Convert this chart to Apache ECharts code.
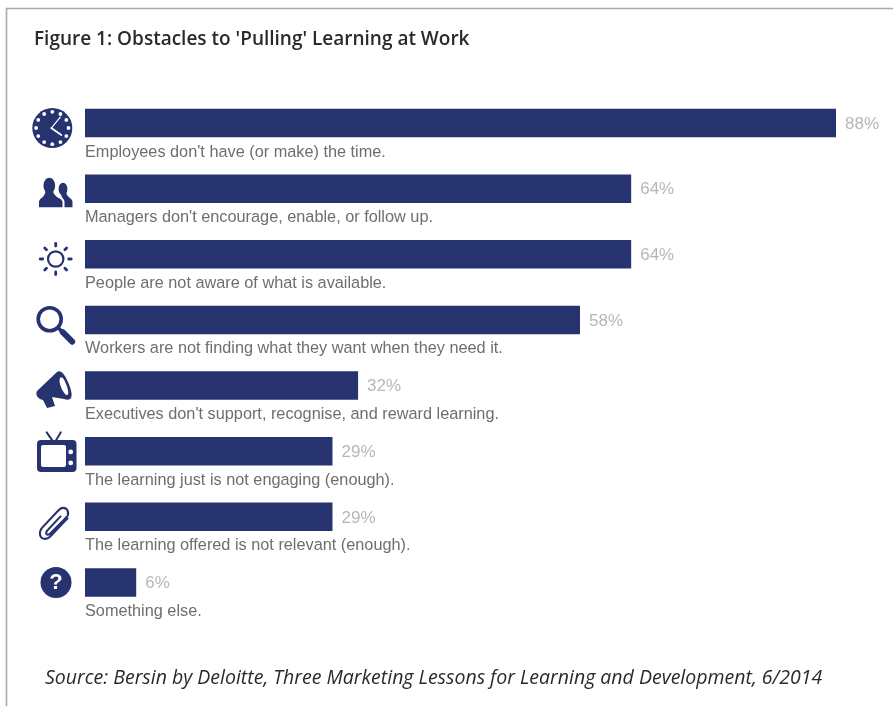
<!DOCTYPE html>
<html>
<head>
<meta charset="utf-8">
<title>Obstacles to 'Pulling' Learning at Work</title>
<script src="https://cdn.jsdelivr.net/npm/echarts@6/dist/echarts.min.js"></script>
<style>
  html, body { margin: 0; padding: 0; background: #fff; }
  #chart { width: 893px; height: 706px; }
</style>
</head>
<body>
<div id="chart"></div>
<script>
const titleText = "Figure 1: Obstacles to 'Pulling' Learning at Work";
const sourceText = "Source: Bersin by Deloitte, Three Marketing Lessons for Learning and Development, 6/2014";
const categories = [
  "Employees don't have (or make) the time.",
  "Managers don't encourage, enable, or follow up.",
  "People are not aware of what is available.",
  "Workers are not finding what they want when they need it.",
  "Executives don't support, recognise, and reward learning.",
  "The learning just is not engaging (enough).",
  "The learning offered is not relevant (enough).",
  "Something else."
];
const percentages = [88, 64, 64, 58, 32, 29, 29, 6];

const NAVY = '#27336f';
const WHITE = '#ffffff';

// Path element drawn at its own coordinates: the rect equals the path's bounds, so no rescaling happens.
function pathEl(d, style) {
  const r = echarts.graphic.makePath(d).getBoundingRect();
  return {
    type: 'path',
    shape: { pathData: d, x: r.x, y: r.y, width: r.width, height: r.height, layout: 'cover' },
    style: style
  };
}
const disc = (cx, cy, r, fill) => ({ type: 'circle', shape: { cx, cy, r }, style: { fill } });
const ring = (cx, cy, r, width) => ({ type: 'circle', shape: { cx, cy, r }, style: { fill: 'none', stroke: NAVY, lineWidth: width } });
const stroke = (x1, y1, x2, y2, width, color) => ({
  type: 'line', shape: { x1, y1, x2, y2 },
  style: { stroke: color || NAVY, lineWidth: width, lineCap: 'round' }
});

function clockIcon() {
  const parts = [disc(0, 0, 20, NAVY)];
  for (let k = 0; k < 12; k++) {
    const a = k * Math.PI / 6;
    parts.push(disc(16.2 * Math.cos(a), 16.2 * Math.sin(a), 1.9, WHITE));
  }
  parts.push(stroke(-1, 0, 8, -11, 1.2, WHITE), stroke(-1, 0, 9, 7, 1.8, WHITE));
  return { dx: -32.7, dy: 5, children: parts };
}
function peopleIcon() {
  return { dx: -46, dy: -10.6, children: [
    { type: 'ellipse', shape: { cx: 10.3, cy: 7.6, rx: 5.8, ry: 7.8 }, style: { fill: NAVY } },
    pathEl('M0 29.3 L0 24 C0 20,6 20,6.5 13 L14 13 C15 20,23.5 20,23.5 24 L23.5 29.3 Z', { fill: NAVY }),
    { type: 'ellipse', shape: { cx: 24, cy: 11, rx: 4.4, ry: 6.2 }, style: { fill: NAVY } },
    pathEl('M25.5 29.3 L25.5 24 C25.5 21,23 20.5,22.5 18 L21.5 14 L27 14 C28 20,33.5 20,33.5 24 L33.5 29.3 Z', { fill: NAVY })
  ] };
}
function sunIcon() {
  const parts = [ring(0, 0, 7.7, 2.2)];
  for (let k = 0; k < 8; k++) {
    const a = k * Math.PI / 4;
    parts.push(stroke(13 * Math.cos(a), 13 * Math.sin(a), 15.5 * Math.cos(a), 15.5 * Math.sin(a), 2.8));
  }
  return { dx: -29.3, dy: 4.7, children: parts };
}
function searchIcon() {
  return { dx: -35.3, dy: -0.7, children: [
    ring(0, 0, 11.5, 3.6),
    stroke(9, 9, 14, 14, 3.5),
    stroke(13, 13, 22.5, 22.5, 6)
  ] };
}
function megaphoneIcon() {
  return { dx: -49, dy: -14.6, children: [
    pathEl('M1 20 L21 1 C24 -1,28 2,31 9 C34 15,37 23,35 27 C34 29,31 29,28 28 L16 26 L19 35 L11 37 L7 29 C2 28,-1 24,1 20 Z', { fill: NAVY }),
    pathEl('M24 7 C26 5,28 8,30 13 C32 18,33 22,31.5 24 C30 25,27 21,25 16 C23.5 12,23 9,24 7 Z', { fill: WHITE })
  ] };
}
function tvIcon() {
  return { dx: -48, dy: -19.3, children: [
    stroke(9.7, 0.5, 16.3, 10, 2),
    stroke(23.7, 0.5, 18, 10, 2),
    { type: 'rect', shape: { x: 0, y: 8, width: 39.5, height: 32, r: 4 }, style: { fill: NAVY } },
    { type: 'rect', shape: { x: 4, y: 13, width: 25, height: 22, r: 2 }, style: { fill: WHITE } },
    disc(33.7, 20, 2.4, WHITE),
    disc(33.7, 31, 2.4, WHITE)
  ] };
}
function clipIcon() {
  const d = 'M22 9 L8 24 C6 27,8 29,11 27 L27 11 C31 7,29 1,24 1 C22 1,21 2,20 3 L3 21 C-1 26,1 32,6 32 C8 32,10 31,11 30 L29 11';
  return { dx: -46, dy: -10, children: [
    pathEl(d, { fill: 'none', stroke: NAVY, lineWidth: 2.1 })
  ] };
}
function questionIcon() {
  return { dx: -29, dy: 0, children: [
    disc(0, 0, 15.5, NAVY),
    { type: 'text', style: { text: '?', x: 0, y: 0.5, fill: WHITE, align: 'center', verticalAlign: 'middle', font: 'bold 22px "Liberation Sans"' } }
  ] };
}
const iconBuilders = [clockIcon, peopleIcon, sunIcon, searchIcon, megaphoneIcon, tvIcon, clipIcon, questionIcon];

const chart = echarts.init(document.getElementById('chart'), null, { renderer: 'canvas' });
chart.setOption({
  animation: false,
  backgroundColor: '#ffffff',
  title: [
    { text: titleText, left: 29, top: 25, textStyle: { fontFamily: 'Open Sans', fontSize: 19, fontWeight: 600, color: '#2a2a2a' } },
    { text: sourceText, left: 40, top: 663, textStyle: { fontFamily: 'Open Sans', fontSize: 19.5, fontStyle: 'italic', fontWeight: 400, color: '#2a2a2a' } }
  ],
  grid: { left: 85, width: 751, top: 90.2, height: 525.1 },
  xAxis: { type: 'value', min: 0, max: 88, show: false },
  yAxis: { type: 'category', data: categories, inverse: true, show: false },
  graphic: [{
    type: 'polyline', silent: true,
    shape: { points: [[6.5, 706], [6.5, 8.5], [893, 8.5]] },
    style: { fill: 'none', stroke: '#a9a9a9', lineWidth: 1.6 }
  }],
  series: [
    {
      type: 'bar', data: percentages, barWidth: 28.5,
      itemStyle: { color: NAVY },
      label: {
        show: true, position: 'right', distance: 9, offset: [0, 1], formatter: '{c}%',
        fontFamily: 'Liberation Sans', fontSize: 17, color: '#b7b7b7'
      }
    },
    {
      // Caption under each bar, starting at the value axis origin.
      type: 'custom', silent: true, clip: false,
      data: categories.map(c => [0, c]),
      encode: { x: 0, y: 1 },
      renderItem: (params, api) => {
        const c = api.coord([0, params.dataIndex]);
        return {
          type: 'text',
          style: {
            text: categories[params.dataIndex], x: c[0], y: c[1] + 29,
            fill: '#6e6e6e', align: 'left', verticalAlign: 'middle',
            font: '16.3px "Liberation Sans"'
          }
        };
      }
    },
    {
      // Pictogram to the left of each bar.
      type: 'custom', silent: true, clip: false,
      data: categories.map(c => [0, c]),
      encode: { x: 0, y: 1 },
      renderItem: (params, api) => {
        const c = api.coord([0, params.dataIndex]);
        const icon = iconBuilders[params.dataIndex]();
        return { type: 'group', x: c[0] + icon.dx, y: c[1] + icon.dy, children: icon.children };
      }
    }
  ]
});
</script>
</body>
</html>
